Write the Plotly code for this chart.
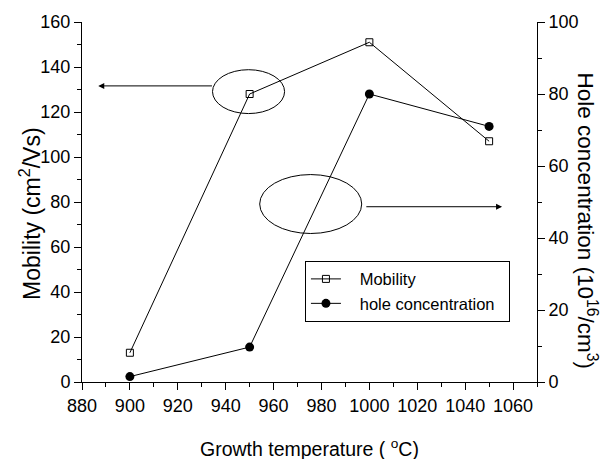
import plotly.graph_objects as go

# Growth temperature series
temperature = [900, 950, 1000, 1050]
mobility = [13, 128, 151, 107]            # cm^2/Vs (left axis)
hole_conc = [1.5, 9.7, 80, 71]            # 10^16 /cm^3 (right axis)
series_names = ["Mobility", "hole concentration"]

x_range = [880, 1070]
mob_range = [0, 160]
hole_range = [0, 100]

FONT = "Liberation Sans, Arial, sans-serif"
BLACK = "#000000"
PAD = "\u00a0"

fig = go.Figure()

fig.add_trace(go.Scatter(
    x=temperature, y=mobility, name=PAD * 3 + series_names[0] + PAD * 2,
    mode="lines+markers",
    line=dict(color=BLACK, width=1),
    marker=dict(symbol="square-open", size=7, color=BLACK, line=dict(width=1)),
    yaxis="y",
))
fig.add_trace(go.Scatter(
    x=temperature, y=hole_conc, name=PAD * 3 + series_names[1] + PAD * 2,
    mode="lines+markers",
    line=dict(color=BLACK, width=1),
    marker=dict(symbol="circle", size=9, color=BLACK),
    yaxis="y2",
))

axis_common = dict(
    showgrid=False, zeroline=False, showline=True, linecolor=BLACK, linewidth=1,
    ticks="outside", ticklen=7, tickwidth=1, tickcolor=BLACK,
    tickfont=dict(family=FONT, size=18, color=BLACK),
)

fig.update_layout(
    width=606, height=459,
    margin=dict(l=82, r=69, t=20, b=77),
    paper_bgcolor="white", plot_bgcolor="white",
    showlegend=True,
    legend=dict(
        x=0.49, y=0.337, xanchor="left", yanchor="top",
        bordercolor=BLACK, borderwidth=1, bgcolor="white",
        font=dict(family=FONT, size=16.5, color=BLACK),
        tracegroupgap=0, itemwidth=30,
    ),
    xaxis=dict(
        range=x_range, dtick=20, tick0=880,
        minor=dict(dtick=10, ticks="outside", ticklen=4, tickcolor=BLACK),
        **axis_common,
    ),
    xaxis2=dict(
        range=x_range, overlaying="x", side="top", anchor="y",
        showgrid=False, zeroline=False, showline=True, linecolor=BLACK, linewidth=1,
        showticklabels=False, ticks="inside", ticklen=7, dtick=20, tick0=880,
        tickcolor=BLACK,
        minor=dict(dtick=10, ticks="inside", ticklen=4, tickcolor=BLACK),
    ),
    yaxis=dict(
        range=mob_range, dtick=20,
        minor=dict(dtick=10, ticks="outside", ticklen=4, tickcolor=BLACK),
        **axis_common,
    ),
    yaxis2=dict(
        range=hole_range, dtick=20, overlaying="y", side="right", anchor="x",
        minor=dict(dtick=10, ticks="outside", ticklen=4, tickcolor=BLACK),
        **axis_common,
    ),
)

# Ellipses marking which curve belongs to which axis
fig.add_shape(type="circle", xref="x", yref="y",
              x0=934.5, x1=964.6, y0=119.3, y1=138.8,
              line=dict(color=BLACK, width=1))
fig.add_shape(type="circle", xref="x", yref="y",
              x0=954.2, x1=996.8, y0=66.0, y1=92.2,
              line=dict(color=BLACK, width=1))

# Arrows pointing to the corresponding axes
arrow_style = dict(showarrow=True, arrowhead=2, arrowsize=1.2, arrowwidth=1,
                   arrowcolor=BLACK, text="", xref="x", yref="y",
                   axref="x", ayref="y")
fig.add_annotation(x=886.8, y=131.6, ax=934.9, ay=131.6, **arrow_style)
fig.add_annotation(x=1055.4, y=77.9, ax=998.1, ay=77.9, **arrow_style)

# Axis titles
fig.add_annotation(text="Growth temperature ( <sup>o</sup>C)",
                   xref="paper", yref="paper",
                   x=(309 - 82) / 454.7, y=(382 - 448) / 362,
                   xanchor="center", yanchor="middle", showarrow=False,
                   font=dict(family=FONT, size=19.5, color=BLACK))
fig.add_annotation(text="Mobility (cm<sup>2</sup>/Vs)",
                   xref="paper", yref="paper",
                   x=(30 - 82) / 454.7, y=(382 - 212) / 362,
                   xanchor="center", yanchor="middle", showarrow=False,
                   textangle=-90, font=dict(family=FONT, size=23, color=BLACK))
fig.add_annotation(text="Hole concentration (10<sup>16</sup>/cm<sup>3</sup>)",
                   xref="paper", yref="paper",
                   x=(587 - 82) / 454.7, y=(382 - 220) / 362,
                   xanchor="center", yanchor="middle", showarrow=False,
                   textangle=90, font=dict(family=FONT, size=22.5, color=BLACK))

fig.write_html("out.html")
